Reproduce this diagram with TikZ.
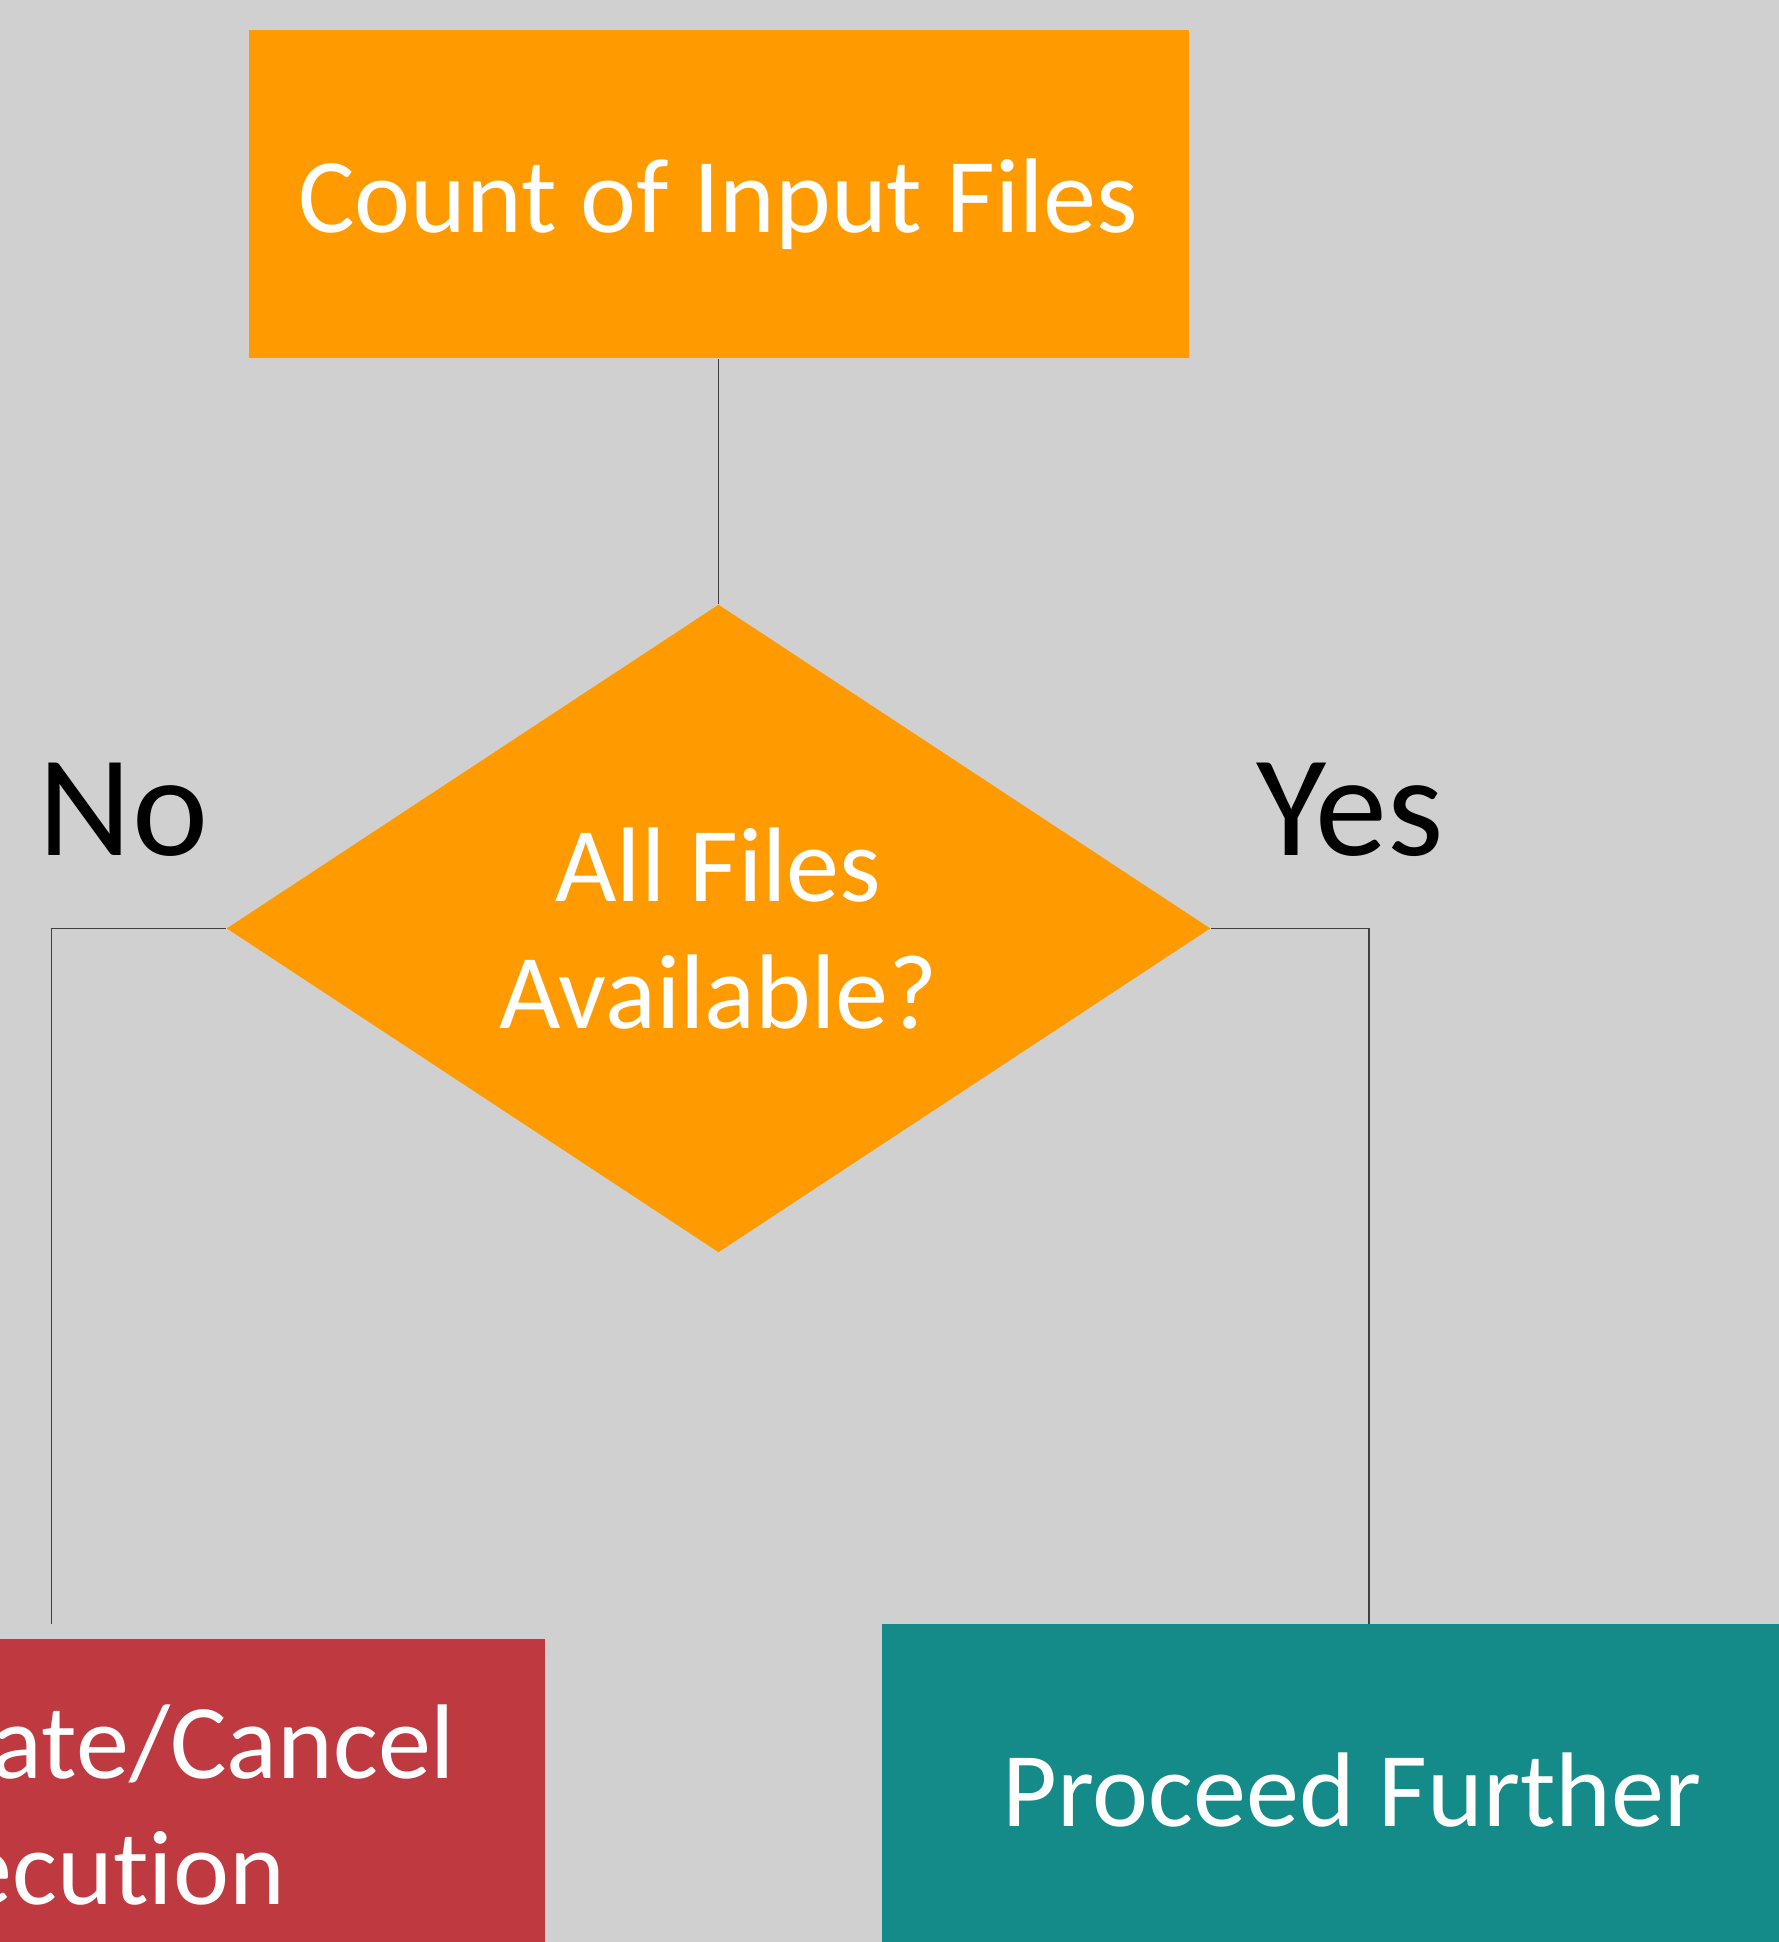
\documentclass[tikz,border=0pt]{standalone}
\usepackage{fontspec}
\setmainfont[Ligatures={NoCommon}]{Carlito}
\usetikzlibrary{positioning, shapes.geometric}
\definecolor{bggray}{RGB}{208,208,208}
\definecolor{boxorange}{RGB}{255,155,0}
\definecolor{boxred}{RGB}{190,57,64}
\definecolor{boxteal}{RGB}{20,139,136}
\tikzset{%
	box/.style={rectangle, minimum width=9.4cm, minimum height=3.3cm, inner sep=0mm,%
		text=white, align=center, font=\fontsize{30.2}{36}\selectfont},
	decision/.style={diamond, shape aspect=1.52, minimum width=9.84cm, minimum height=6.48cm,%
		inner sep=0mm, fill=boxorange, text=white, align=center, font=\fontsize{30.2}{36}\selectfont},
	connector/.style={line width=0.45pt, draw=black!75},
	answer/.style={anchor=base, inner sep=0mm, font=\fontsize{41}{48}\selectfont}
}
\begin{document}
\begin{tikzpicture}[node distance=2.45cm]
	\useasboundingbox (0,0) rectangle (17.79,-19.42);
	\clip (0,0) rectangle (17.79,-19.42);
	\fill[bggray] (0,0) rectangle (17.79,-19.42);
	\node[box, fill=boxorange, minimum height=3.28cm, text height=0.98cm, text depth=0.22cm] (count) at (7.185,-1.94) {Count of Input Files};
	\node[decision] (avail) [below=of count] {All Files\\Available?};
	\node[box, fill=boxred, minimum height=3.32cm] (stop) at (0.75,-18.05) {Terminate/Cancel\\Execution};
	\node[box, fill=boxteal, minimum height=3.32cm] (proceed) at (13.52,-17.90) {Proceed Further};
	\node[answer] (no) at (1.235,-8.55) {No};
	\node[answer] (yes) at (13.50,-8.55) {Yes};
	\coordinate (no-end) at (0.517,-16.24);
	\coordinate (yes-end) at (13.69,-16.24);
	\draw [connector] (count) to (avail);
	\draw [connector] (avail.west) -| (no-end);
	\draw [connector] (avail.east) -| (yes-end);
\end{tikzpicture}
\end{document}
